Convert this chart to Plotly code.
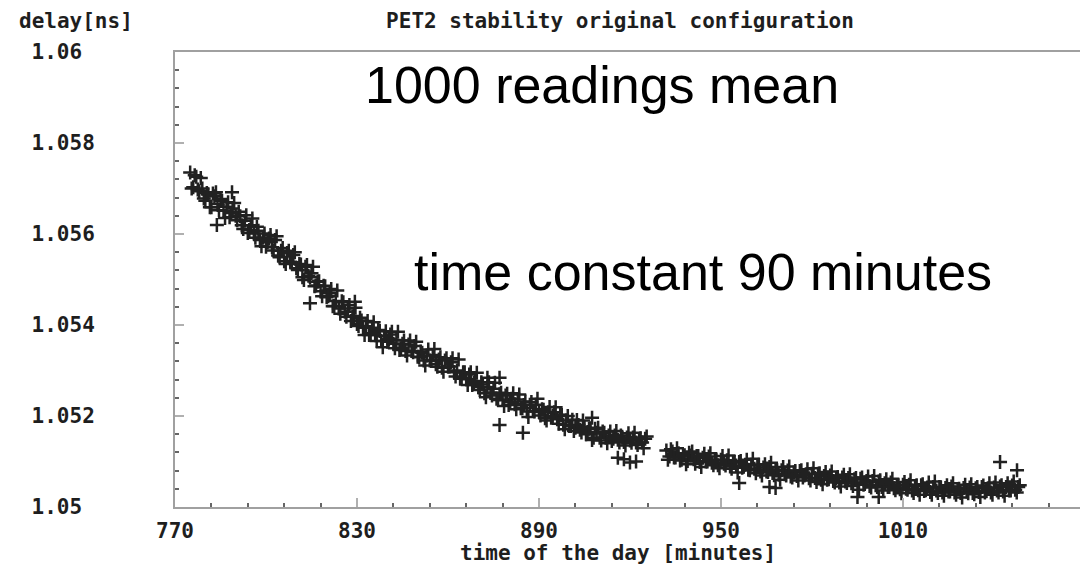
import plotly.graph_objects as go

# ---- data ----
# first pass of readings: time of the day [minutes]
time_a = [
    775, 776, 777, 778, 779, 780, 781, 782, 783, 784, 785, 786, 787, 788, 789, 790,
    791, 792, 793, 794, 795, 796, 797, 798, 799, 800, 801, 802, 803, 804, 805,
    806, 807, 808, 809, 810, 811, 812, 813, 814, 815, 816, 817, 818, 819, 820,
    821, 822, 823, 824, 825, 826, 827, 828, 829, 830, 831, 832, 833, 834, 835,
    836, 837, 838, 839, 840, 841, 842, 843, 844, 845, 846, 847, 848, 849, 850,
    851, 852, 853, 854, 855, 856, 857, 858, 859, 860, 861, 862, 863, 864, 865,
    866, 867, 868, 869, 870, 871, 872, 873, 874, 875, 876, 877, 878, 879, 880,
    881, 882, 883, 884, 885, 886, 887, 888, 889, 890, 891, 892, 893, 894, 895,
    896, 897, 898, 899, 900, 901, 902, 903, 904, 905, 906, 907, 908, 909, 910,
    911, 912, 913, 914, 915, 916, 917, 918, 919, 920, 921, 922, 923, 924, 925,
    932, 933, 934, 935, 936, 937, 938, 939, 940, 941, 942, 943, 944, 945, 946,
    947, 948, 949, 950, 951, 952, 953, 954, 955, 956, 957, 958, 959, 960, 961,
    962, 963, 964, 965, 966, 967, 968, 969, 970, 971, 972, 973, 974, 975, 976,
    977, 978, 979, 980, 981, 982, 983, 984, 985, 986, 987, 988, 989, 990, 991,
    992, 993, 994, 995, 996, 997, 998, 999, 1000, 1001, 1002, 1003, 1004, 1005, 1006,
    1007, 1008, 1009, 1010, 1011, 1012, 1013, 1014, 1015, 1016, 1017, 1018, 1019, 1020, 1021,
    1022, 1023, 1024, 1025, 1026, 1027, 1028, 1029, 1030, 1031, 1032, 1033, 1034, 1035, 1036,
    1037, 1038, 1039, 1040, 1041, 1042, 1043, 1044, 1045, 1046, 1047, 1048,
]
# delay [ns]
delay_a = [
    1.05735, 1.05703, 1.05726, 1.05694, 1.05700, 1.05673, 1.05687, 1.05659, 1.05683, 1.05666, 1.05677,
    1.05651, 1.05660, 1.05637, 1.05656, 1.05640,
    1.05649, 1.05619, 1.05629, 1.05602, 1.05619, 1.05601, 1.05616, 1.05587, 1.05592, 1.05572,
    1.05590, 1.05571, 1.05587, 1.05553, 1.05563,
    1.05540, 1.05558, 1.05539, 1.05554, 1.05525, 1.05534, 1.05505, 1.05528, 1.05508, 1.05514,
    1.05485, 1.05495, 1.05474, 1.05486, 1.05461,
    1.05470, 1.05441, 1.05453, 1.05436, 1.05452, 1.05429, 1.05436, 1.05409, 1.05420, 1.05402,
    1.05416, 1.05394, 1.05397, 1.05378, 1.05394,
    1.05378, 1.05389, 1.05365, 1.05376, 1.05363, 1.05379, 1.05359, 1.05367, 1.05345, 1.05359,
    1.05343, 1.05357, 1.05343, 1.05354, 1.05330,
    1.05342, 1.05322, 1.05333, 1.05322, 1.05334, 1.05314, 1.05324, 1.05306, 1.05322, 1.05309,
    1.05318, 1.05296, 1.05300, 1.05282, 1.05296,
    1.05281, 1.05291, 1.05268, 1.05277, 1.05264, 1.05274, 1.05250, 1.05263, 1.05251, 1.05260,
    1.05238, 1.05248, 1.05235, 1.05245, 1.05224,
    1.05238, 1.05226, 1.05236, 1.05217, 1.05224, 1.05210, 1.05225, 1.05211, 1.05225, 1.05209,
    1.05215, 1.05195, 1.05208, 1.05196, 1.05208,
    1.05193, 1.05203, 1.05181, 1.05190, 1.05178, 1.05192, 1.05174, 1.05180, 1.05164, 1.05176,
    1.05165, 1.05173, 1.05152, 1.05163, 1.05152,
    1.05166, 1.05152, 1.05157, 1.05145, 1.05157, 1.05148, 1.05157, 1.05143, 1.05153, 1.05146,
    1.05153, 1.05142, 1.05149, 1.05142, 1.05150,
    1.05124, 1.05111, 1.05122, 1.05109, 1.05118, 1.05104, 1.05114, 1.05101, 1.05113, 1.05105,
    1.05112, 1.05099, 1.05108, 1.05100, 1.05111,
    1.05097, 1.05103, 1.05092, 1.05104, 1.05095, 1.05103, 1.05089, 1.05098, 1.05091, 1.05099,
    1.05086, 1.05093, 1.05082, 1.05093, 1.05084,
    1.05092, 1.05078, 1.05087, 1.05078, 1.05088, 1.05075, 1.05080, 1.05071, 1.05081, 1.05072,
    1.05080, 1.05067, 1.05076, 1.05068, 1.05079,
    1.05065, 1.05072, 1.05063, 1.05073, 1.05064, 1.05073, 1.05060, 1.05068, 1.05060, 1.05069,
    1.05057, 1.05064, 1.05054, 1.05065, 1.05056,
    1.05064, 1.05052, 1.05061, 1.05052, 1.05062, 1.05049, 1.05057, 1.05046, 1.05057, 1.05048,
    1.05056, 1.05044, 1.05052, 1.05044, 1.05054,
    1.05041, 1.05048, 1.05039, 1.05049, 1.05040, 1.05049, 1.05036, 1.05046, 1.05037, 1.05048,
    1.05035, 1.05043, 1.05033, 1.05044, 1.05036,
    1.05044, 1.05032, 1.05042, 1.05034, 1.05045, 1.05032, 1.05039, 1.05031, 1.05042, 1.05034,
    1.05043, 1.05031, 1.05041, 1.05033, 1.05044,
    1.05032, 1.05041, 1.05032, 1.05043, 1.05036, 1.05045, 1.05034, 1.05044, 1.05036, 1.05047,
    1.05038, 1.05044,
]

# second pass of readings (between the first ones)
time_b = [
    775.5, 776.5, 777.5, 778.5, 779.5, 780.5, 781.5, 782.5, 783.5, 784.5,
    785.5, 786.5, 787.5, 788.5, 789.5, 790.5, 791.5, 792.5, 793.5, 794.5,
    795.5, 796.5, 797.5, 798.5, 799.5, 800.5, 801.5, 802.5, 803.5, 804.5,
    805.5, 806.5, 807.5, 808.5, 809.5, 810.5, 811.5, 812.5, 813.5, 814.5,
    815.5, 816.5, 817.5, 818.5, 819.5, 820.5, 821.5, 822.5, 823.5, 824.5,
    825.5, 826.5, 827.5, 828.5, 829.5, 830.5, 831.5, 832.5, 833.5, 834.5,
    835.5, 836.5, 837.5, 838.5, 839.5, 840.5, 841.5, 842.5, 843.5, 844.5,
    845.5, 846.5, 847.5, 848.5, 849.5, 850.5, 851.5, 852.5, 853.5, 854.5,
    855.5, 856.5, 857.5, 858.5, 859.5, 860.5, 861.5, 862.5, 863.5, 864.5,
    865.5, 866.5, 867.5, 868.5, 869.5, 870.5, 871.5, 872.5, 873.5, 874.5,
    875.5, 876.5, 877.5, 878.5, 879.5, 880.5, 881.5, 882.5, 883.5, 884.5,
    885.5, 886.5, 887.5, 888.5, 889.5, 890.5, 891.5, 892.5, 893.5, 894.5,
    895.5, 896.5, 897.5, 898.5, 899.5, 900.5, 901.5, 902.5, 903.5, 904.5,
    905.5, 906.5, 907.5, 908.5, 909.5, 910.5, 911.5, 912.5, 913.5, 914.5,
    915.5, 916.5, 917.5, 918.5, 919.5, 920.5, 921.5, 922.5, 923.5, 924.5, 925.5,
    932.5, 933.5, 934.5, 935.5, 936.5, 937.5, 938.5, 939.5, 940.5, 941.5,
    942.5, 943.5, 944.5, 945.5, 946.5, 947.5, 948.5, 949.5, 950.5, 951.5,
    952.5, 953.5, 954.5, 955.5, 956.5, 957.5, 958.5, 959.5, 960.5, 961.5,
    962.5, 963.5, 964.5, 965.5, 966.5, 967.5, 968.5, 969.5, 970.5, 971.5,
    972.5, 973.5, 974.5, 975.5, 976.5, 977.5, 978.5, 979.5, 980.5, 981.5,
    982.5, 983.5, 984.5, 985.5, 986.5, 987.5, 988.5, 989.5, 990.5, 991.5,
    992.5, 993.5, 994.5, 995.5, 996.5, 997.5, 998.5, 999.5, 1000.5, 1001.5,
    1002.5, 1003.5, 1004.5, 1005.5, 1006.5, 1007.5, 1008.5, 1009.5, 1010.5, 1011.5,
    1012.5, 1013.5, 1014.5, 1015.5, 1016.5, 1017.5, 1018.5, 1019.5, 1020.5, 1021.5,
    1022.5, 1023.5, 1024.5, 1025.5, 1026.5, 1027.5, 1028.5, 1029.5, 1030.5, 1031.5,
    1032.5, 1033.5, 1034.5, 1035.5, 1036.5, 1037.5, 1038.5, 1039.5, 1040.5, 1041.5,
    1042.5, 1043.5, 1044.5, 1045.5, 1046.5, 1047.5, 1048.5,
]
delay_b = [
    1.05700, 1.05729, 1.05698, 1.05723, 1.05678, 1.05690, 1.05659, 1.05689, 1.05692, 1.05652,
    1.05673, 1.05635, 1.05670, 1.05646, 1.05668, 1.05630, 1.05639, 1.05611, 1.05641, 1.05609,
    1.05634, 1.05592, 1.05607, 1.05573, 1.05601, 1.05582, 1.05598, 1.05564, 1.05595, 1.05549,
    1.05569, 1.05534, 1.05563, 1.05538, 1.05560, 1.05521, 1.05533, 1.05499, 1.05532, 1.05505,
    1.05528, 1.05487, 1.05496, 1.05463, 1.05485, 1.05463, 1.05479, 1.05442, 1.05476, 1.05425,
    1.05450, 1.05418, 1.05444, 1.05418, 1.05438, 1.05398, 1.05410, 1.05378, 1.05409, 1.05382,
    1.05406, 1.05365, 1.05387, 1.05351, 1.05386, 1.05369, 1.05385, 1.05349, 1.05385, 1.05349,
    1.05366, 1.05333, 1.05366, 1.05340, 1.05363, 1.05329, 1.05339, 1.05311, 1.05346, 1.05321,
    1.05347, 1.05308, 1.05329, 1.05297, 1.05327, 1.05309, 1.05327, 1.05287, 1.05324, 1.05284,
    1.05296, 1.05268, 1.05296, 1.05273, 1.05295, 1.05257, 1.05269, 1.05241, 1.05274, 1.05245,
    1.05273, 1.05235, 1.05251, 1.05222, 1.05249, 1.05231, 1.05250, 1.05215, 1.05247, 1.05217,
    1.05232, 1.05198, 1.05231, 1.05210, 1.05238, 1.05201, 1.05214, 1.05190, 1.05220, 1.05200,
    1.05219, 1.05183, 1.05202, 1.05171, 1.05200, 1.05178, 1.05167, 1.05191, 1.05170, 1.05190,
    1.05160, 1.05172, 1.05147, 1.05172, 1.05174, 1.05146, 1.05163, 1.05140, 1.05166, 1.05150,
    1.05167, 1.05142, 1.05152, 1.05135, 1.05162, 1.05141, 1.05163, 1.05136, 1.05151, 1.05129, 1.05155,
    1.05104, 1.05127, 1.05109, 1.05129, 1.05102, 1.05113, 1.05094, 1.05119, 1.05122, 1.05095,
    1.05112, 1.05088, 1.05117, 1.05100, 1.05118, 1.05092, 1.05103, 1.05085, 1.05112, 1.05091,
    1.05113, 1.05084, 1.05099, 1.05076, 1.05101, 1.05089, 1.05104, 1.05081, 1.05106, 1.05074,
    1.05093, 1.05069, 1.05094, 1.05077, 1.05097, 1.05070, 1.05081, 1.05060, 1.05088, 1.05069,
    1.05089, 1.05065, 1.05079, 1.05058, 1.05081, 1.05069, 1.05083, 1.05058, 1.05085, 1.05055,
    1.05074, 1.05050, 1.05077, 1.05061, 1.05078, 1.05054, 1.05066, 1.05045, 1.05071, 1.05053,
    1.05072, 1.05046, 1.05064, 1.05038, 1.05065, 1.05054, 1.05067, 1.05043, 1.05068, 1.05044,
    1.05059, 1.05036, 1.05061, 1.05044, 1.05062, 1.05037, 1.05048, 1.05030, 1.05055, 1.05038,
    1.05059, 1.05031, 1.05048, 1.05027, 1.05050, 1.05037, 1.05054, 1.05027, 1.05056, 1.05031,
    1.05043, 1.05025, 1.05048, 1.05034, 1.05052, 1.05027, 1.05040, 1.05021, 1.05049, 1.05030,
    1.05050, 1.05028, 1.05044, 1.05022, 1.05047, 1.05035, 1.05052, 1.05027, 1.05054, 1.05032,
    1.05048, 1.05025, 1.05052, 1.05036, 1.05056, 1.05032, 1.05048,
]

# isolated readings away from the band
time_out = [783.8, 788.8, 814.5, 829.3, 873, 877, 877, 884.7, 907.5, 916, 918, 920, 922,
            956, 966, 968, 995, 1002, 1042, 1047.6]
delay_out = [1.05620, 1.05692, 1.05448, 1.05451, 1.05284, 1.05284, 1.05180, 1.05163, 1.05196, 1.05108,
             1.05105, 1.05098, 1.05100, 1.05053, 1.05044, 1.05042, 1.05022, 1.05022, 1.05099, 1.05081]

y_ticks = [1.05, 1.052, 1.054, 1.056, 1.058, 1.06]
y_tick_labels = ["1.05", "1.052", "1.054", "1.056", "1.058", "1.06"]
x_ticks = [770, 830, 890, 950, 1010]
x_tick_labels = ["770", "830", "890", "950", "1010"]

title_text = "PET2 stability original configuration"
y_label = "delay[ns]"
x_label = "time of the day [minutes]"
note_1 = "1000 readings mean"
note_2 = "time constant 90 minutes"

# ---- figure ----
PIX = "DejaVu Sans Mono"
TXT = "#1e1e1e"
W, H = 1080, 559           # page has an 8px body margin
L, T, B = 167, 44, 60
PW, PH = W - L, H - T - B


def px_x(p):   # figure pixel -> paper x
    return (p - L) / PW


def px_y(p):   # figure pixel -> paper y
    return 1 - (p - T) / PH


all_t = time_a + time_b + time_out
all_d = delay_a + delay_b + delay_out

fig = go.Figure()
fig.add_trace(go.Scatter(
    x=all_t, y=all_d, mode="markers",
    marker=dict(symbol="cross-thin", size=10, color="#0a0a0a",
                line=dict(width=2.5, color="#0a0a0a")),
    opacity=0.9, showlegend=False, hoverinfo="x+y",
))

w = max(len(s) for s in y_tick_labels)
y_tick_text = [s + "\u00a0" * (w - len(s)) for s in y_tick_labels]

fig.update_layout(
    width=W, height=H,
    margin=dict(l=L, r=0, t=T, b=B, autoexpand=False),
    paper_bgcolor="white", plot_bgcolor="white",
    title=dict(text=title_text, x=612 / W, xref="container", xanchor="center",
               y=1 - 13 / H, yref="container", yanchor="middle",
               font=dict(family=PIX, size=21, color=TXT, weight="bold")),
    xaxis=dict(
        range=[770, 1071], tickmode="array", tickvals=x_ticks, ticktext=x_tick_labels,
        showgrid=False, zeroline=False, automargin=False,
        showline=True, linecolor="#a0a0a0", linewidth=2, mirror=True,
        ticks="inside", ticklen=9, tickwidth=2, tickcolor="#b0b0b0",
        minor=dict(ticks="inside", ticklen=4, tickwidth=1.5, tickcolor="#666666",
                   tick0=770, dtick=12, showgrid=False),
        tickfont=dict(family=PIX, size=21, color=TXT, weight="bold"),
        ticklabelstandoff=4,
    ),
    yaxis=dict(
        range=[1.05, 1.06], tickmode="array", tickvals=y_ticks, ticktext=y_tick_text,
        showgrid=False, zeroline=False, automargin=False,
        showline=True, linecolor="#a0a0a0", linewidth=2, mirror=False,
        ticks="inside", ticklen=9, tickwidth=2, tickcolor="#b0b0b0",
        minor=dict(ticks="inside", ticklen=4, tickwidth=1.5, tickcolor="#666666",
                   tick0=1.05, dtick=0.0004, showgrid=False),
        tickfont=dict(family=PIX, size=21, color=TXT, weight="bold"),
        ticklabelstandoff=74,
    ),
    annotations=[
        dict(text=y_label, xref="paper", yref="paper", x=px_x(9), y=px_y(13),
             xanchor="left", yanchor="middle", showarrow=False,
             font=dict(family=PIX, size=21, color=TXT, weight="bold")),
        dict(text=x_label, xref="paper", yref="paper", x=px_x(610), y=px_y(545),
             xanchor="center", yanchor="middle", showarrow=False,
             font=dict(family=PIX, size=21, color=TXT, weight="bold")),
        dict(text=note_1, xref="paper", yref="paper", x=px_x(594), y=px_y(77),
             xanchor="center", yanchor="middle", showarrow=False,
             font=dict(family="Liberation Sans", size=52, color="black")),
        dict(text=note_2, xref="paper", yref="paper", x=px_x(695), y=px_y(264),
             xanchor="center", yanchor="middle", showarrow=False,
             font=dict(family="Liberation Sans", size=52, color="black")),
    ],
)

fig.write_html("out.html")
